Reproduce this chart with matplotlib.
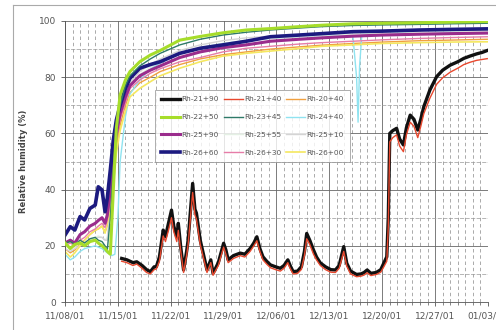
import numpy as np
import matplotlib
matplotlib.use("Agg")
import matplotlib.pyplot as plt
import matplotlib.dates as mdates
from matplotlib.ticker import FixedLocator, MultipleLocator
from matplotlib.lines import Line2D

# days since 11/08/01
days_up = [0, 0.7, 1.3, 2, 2.6, 3.3, 4, 4.4, 4.9, 5.3,
           5.6, 6, 6.4, 6.8, 7.3, 8, 8.6, 9.9, 11.3, 12.6,
           15.2, 17.9, 20.9, 24, 27.2, 31, 34, 38.1, 42, 47,
           51, 55.9]

rh_26_60 = [23.8, 26.8, 25.6, 30.4, 29.2, 33.3, 34.5, 41, 39.9, 32.1,
            37, 47, 57.7, 64.8, 70, 76, 79.6, 83.2, 84.5, 85.5,
            88.5, 90.3, 91.5, 92.8, 94.4, 95.0, 95.5, 96.2, 96.4, 96.8,
            97.0, 97.2]
rh_22_50 = [21, 19, 20.5, 21, 20, 21.5, 22, 21, 20, 19,
            18, 17, 40, 62, 73.7, 79, 82, 85.5, 87.9, 89.5,
            93.2, 94.5, 95.8, 96.8, 97.3, 98, 98.5, 99, 99.2, 99.4,
            99.6, 99.8]
rh_23_45 = [21, 21.5, 20.5, 22, 21, 22.5, 23, 22, 21.5, 20,
            18.5, 30, 48, 60, 70, 77, 80.5, 84, 86.5, 88.5,
            91.5, 93.5, 95, 96, 96.8, 97.5, 98, 98.4, 98.6, 98.8,
            99, 99.2]
rh_25_90 = [21, 22, 21, 24, 25, 27, 28, 29, 30, 28,
            31, 40, 52, 60, 67, 73, 77, 80.5, 82.5, 84,
            87, 89, 90.5, 91.5, 92.8, 93.5, 94, 94.6, 95, 95.3,
            95.5, 95.7]
rh_26_30 = [20, 21, 20, 22, 23, 25, 26, 27, 28, 26.5,
            29, 36, 48, 58, 65, 71, 76, 79, 81.4, 83,
            85.5, 87, 89, 90.3, 91, 91.8, 92.3, 92.8, 93.3, 93.8,
            94.1, 94.4]
rh_20_40 = [19, 17.5, 18.5, 21, 22, 24, 25.5, 26, 27, 25,
            27, 33, 44, 55, 63, 70, 74.5, 78, 80, 82,
            84.5, 86.5, 88, 89, 90, 90.8, 91.4, 92, 92.5, 93,
            93.2, 93.5]
rh_26_00 = [18, 16, 17.5, 20, 22, 24, 25.6, 26, 27, 24.5,
            28, 32, 42, 53, 61, 68, 73, 76, 78.4, 80.5,
            83.2, 85.5, 87.5, 88.5, 89.3, 90.2, 91, 91.5, 92, 92.3,
            92.5, 92.6]
rh_25_10 = [19, 18, 19, 20, 21, 22, 22.5, 23, 23, 22,
            22, 35, 50, 60, 68, 74, 78, 82, 84.5, 86.5,
            89.5, 91.5, 93, 94, 94.6, 95.1, 95.5, 95.9, 96.2, 96.5,
            96.7, 96.8]
rh_25_55 = [20, 19, 19.5, 21, 21.5, 22, 23, 23.5, 23, 22,
            23, 34, 49, 59, 67, 73, 77, 81, 83.5, 85.5,
            88.5, 90.5, 92, 93, 93.8, 94.4, 94.9, 95.3, 95.6, 95.9,
            96.1, 96.3]

days_cyan = [0, 0.7, 1.3, 2, 2.6, 3.3, 4, 4.9, 5.6, 6.2,
             6.6, 7.0, 7.3, 8, 8.6, 9.9, 11.3, 12.6, 15.2, 17.9,
             20.9, 24, 27.2, 31, 34, 38.1, 38.6, 38.8, 39.0, 39.3,
             42, 47, 51, 55.9]
rh_24_40 = [17, 15, 16, 18, 19, 19.5, 20, 19, 17.5, 16.5,
            17, 30, 50, 66, 74, 79, 83, 85, 88.5, 90.5,
            92, 93, 93.8, 94.4, 94.8, 95.2, 80, 64, 84, 95.3,
            95.5, 95.8, 96, 96.2]

days_21 = [7.5, 8.2, 9.0, 9.5, 10.2, 10.8, 11.3, 11.8, 12.1, 12.5,
           13.0, 13.3, 13.7, 14.1, 14.4, 14.8, 15.0, 15.3, 15.7, 16.1,
           16.3, 16.9, 17.2, 17.4, 17.9, 18.3, 18.8, 19.3, 19.6, 20.3,
           21.0, 21.3, 21.6, 22.3, 23.2, 23.8, 24.5, 25.0, 25.4, 25.8,
           26.2, 26.7, 27.2, 27.9, 28.5, 29.0, 29.5, 29.8, 30.2, 30.8,
           31.3, 31.7, 32.0, 32.4, 32.9, 33.3, 33.8, 34.5, 35.2, 35.8,
           36.3, 36.9, 37.3, 37.8, 38.6, 39.2, 39.6, 40.0, 40.5, 41.2,
           41.8, 42.2, 42.6, 42.8, 43.0, 43.4, 43.9, 44.3, 44.8, 45.2,
           45.7, 46.2, 46.7, 47.1, 47.5, 48.3, 49.2, 50.0, 51.0, 52.0,
           52.8, 53.6, 54.5, 55.2, 55.9]
rh_21_90 = [15.5, 15.0, 14.0, 14.3, 13.0, 11.5, 10.8, 12.5, 12.6, 16.0,
            25.6, 23.2, 28.0, 32.7, 27.0, 23.2, 28.0, 20.0, 11.4, 18.0,
            22.0, 42.2, 33.0, 31.6, 22.0, 17.3, 11.4, 15.0, 10.2, 14.0,
            20.9, 18.5, 15.0, 16.5, 17.4, 17.0, 19.0, 21.0, 23.2, 19.0,
            16.1, 14.5, 13.2, 12.5, 12.0, 13.0, 15.0, 13.0, 10.8, 11.0,
            12.6, 18.0, 24.4, 22.0, 18.5, 16.0, 13.9, 12.5, 11.5, 11.4,
            13.0, 19.7, 13.8, 11.0, 9.8, 10.0, 10.5, 11.4, 10.2, 10.5,
            11.5, 13.8, 16.1, 30.0, 60.0, 61.0, 61.8, 58.0, 55.9, 62.0,
            66.5, 65.0, 61.2, 65.0, 69.5, 75.4, 80.2, 82.5, 84.3, 85.5,
            86.7, 87.5, 88.3, 88.8, 89.5]
rh_21_40 = [14.5, 14.0, 13.0, 13.5, 12.0, 10.5, 10.0, 11.5, 11.8, 14.5,
            23.5, 21.5, 25.5, 30.0, 25.0, 21.5, 25.5, 18.5, 10.5, 16.5,
            20.5, 39.0, 31.0, 29.5, 20.5, 16.0, 10.5, 14.0, 9.5, 13.0,
            19.5, 17.0, 14.0, 15.5, 16.5, 16.0, 18.0, 20.0, 21.8, 18.0,
            15.0, 13.5, 12.2, 11.5, 11.0, 12.0, 14.0, 12.0, 10.0, 10.2,
            11.6, 16.5, 22.5, 20.5, 17.0, 15.0, 13.0, 11.5, 10.6, 10.5,
            12.0, 18.0, 12.8, 10.0, 9.0, 9.2, 9.6, 10.4, 9.4, 9.8,
            10.6, 12.5, 14.5, 27.0, 57.0, 58.5, 59.5, 55.5, 53.5, 59.5,
            64.0, 62.5, 58.5, 62.5, 67.0, 72.5, 77.5, 79.8, 81.8, 83.2,
            84.5, 85.3, 86.0, 86.3, 86.6]

t0 = mdates.datestr2num("2001-11-08")

# legend order (row by row as in the original)
series = [
    ("Rh-21+90", days_21, rh_21_90, "#111111", 2.4, 3),
    ("Rh-21+40", days_21, rh_21_40, "#e8482e", 1.0, 4),
    ("Rh-20+40", days_up, rh_20_40, "#f0a040", 1.0, 2),
    ("Rh-22+50", days_up, rh_22_50, "#a6dd2a", 2.2, 2.6),
    ("Rh-23+45", days_up, rh_23_45, "#2e7a68", 1.0, 2.5),
    ("Rh-24+40", days_cyan, rh_24_40, "#8fe3f0", 1.0, 2),
    ("Rh-25+90", days_up, rh_25_90, "#9a2c8c", 2.2, 2.2),
    ("Rh-25+55", days_up, rh_25_55, "#e4f0e4", 1.0, 2),
    ("Rh-25+10", days_up, rh_25_10, "#d4d4d4", 1.0, 2),
    ("Rh-26+60", days_up, rh_26_60, "#1c1a80", 2.6, 2.4),
    ("Rh-26+30", days_up, rh_26_30, "#e67ca8", 1.0, 2.1),
    ("Rh-26+00", days_up, rh_26_00, "#f5e860", 1.2, 2),
]

fig = plt.figure(figsize=(4.96, 3.30), dpi=100)
ax = fig.add_axes([65 / 496, 1 - 302 / 330, 423 / 496, 281 / 330])

handles = []
for name, d, v, c, lw, z in series:
    h, = ax.plot(t0 + np.array(d), v, color=c, lw=lw, zorder=z, label=name)
    handles.append(h)

ax.set_xlim(t0, t0 + 56)
ax.set_ylim(0, 100)
ax.xaxis.set_major_locator(FixedLocator(t0 + np.arange(0, 57, 7)))
ax.xaxis.set_minor_locator(MultipleLocator(1))
ax.xaxis.set_major_formatter(mdates.DateFormatter("%m/%d/%y"))
ax.yaxis.set_major_locator(MultipleLocator(20))
ax.yaxis.set_minor_locator(FixedLocator([10, 30, 50, 70, 90]))

ax.grid(which="major", color="#666666", lw=0.6, zorder=0)
ax.grid(which="minor", axis="x", color="#888888", lw=0.5, ls=(0, (5, 4)), zorder=0)
ax.grid(which="minor", axis="y", color="#999999", lw=0.5, ls=(0, (6, 2)), zorder=0)

ax.tick_params(axis="both", which="major", labelsize=6.5, labelcolor="#555555",
               color="#555555", length=3, width=0.6)
ax.tick_params(axis="x", which="minor", length=2, width=0.5, color="#555555")
ax.tick_params(axis="y", which="minor", length=0)
for s in ax.spines.values():
    s.set_visible(False)
for side in ["left", "bottom"]:
    ax.spines[side].set_visible(True)
    ax.spines[side].set_color("#555555")
    ax.spines[side].set_linewidth(0.6)

ax.set_ylabel("Relative humidity (%)", fontsize=6, fontweight="bold",
              color="#444444", labelpad=8)

# matplotlib fills legend columns first, so reorder for row-wise layout
order = [0, 3, 6, 9, 1, 4, 7, 10, 2, 5, 8, 11]
leg = ax.legend([handles[i] for i in order], [series[i][0] for i in order],
                ncol=3, loc="upper left", bbox_to_anchor=(0.213, 0.754),
                fontsize=5.3, frameon=True, fancybox=False, edgecolor="#888888",
                handlelength=2.6, handletextpad=0.2, columnspacing=0.6,
                labelspacing=1.6, borderpad=0.8, borderaxespad=0)
leg.get_frame().set_linewidth(0.6)
leg.set_zorder(10)
for txt in leg.get_texts():
    txt.set_color("#555555")

# chart area outline
fig.add_artist(Line2D([13 / 496, 13 / 496], [0, 1 - 5 / 330], color="#aaaaaa", lw=0.8))
fig.add_artist(Line2D([13 / 496, 1], [1 - 5 / 330, 1 - 5 / 330], color="#aaaaaa", lw=0.8))

fig.savefig("out.png", dpi=100)
